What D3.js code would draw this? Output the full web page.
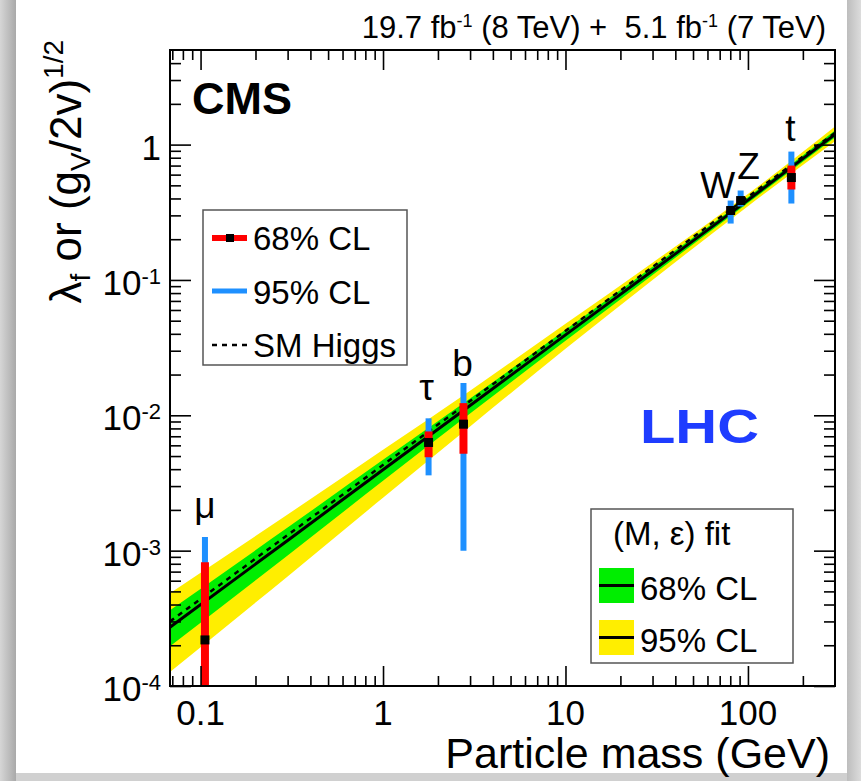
<!DOCTYPE html>
<html>
<head>
<meta charset="utf-8">
<script src="https://cdn.jsdelivr.net/npm/d3@7"></script>
<style>
  body { margin: 0; background: #fff; }
  svg text { font-family: "Liberation Sans", Arial, Helvetica, sans-serif; fill: #000; }
</style>
</head>
<body>
<svg id="chart" width="861" height="781"></svg>
<script>
// measured couplings per particle
const particles = ["μ", "τ", "b", "W", "Z", "t"];
const masses = [0.1057, 1.777, 2.76, 80.4, 91.2, 173];
const central = [2.19e-4, 6.3e-3, 8.6e-3, 0.326, 0.386, 0.571];
const lo68 = [5e-5, 4.9e-3, 5.2e-3, 0.31, 0.37, 0.466];
const hi68 = [8.2e-4, 7.6e-3, 1.23e-2, 0.345, 0.40, 0.70];
const lo95 = [5e-5, 3.6e-3, 1.0e-3, 0.261, 0.349, 0.367];
const hi95 = [1.26e-3, 9.5e-3, 1.73e-2, 0.386, 0.458, 0.888];

// (M, eps) fit: central line and bands
const fitMass = [0.068, 0.3, 1, 3, 10, 30, 100, 300];
const fitCentral = [2.72e-4, 1.19e-3, 3.96e-3, 1.18e-2, 3.93e-2, 0.117, 0.389, 1.19];
const fitLo68 = [1.97e-4, 9.22e-4, 3.28e-3, 1.03e-2, 3.55e-2, 0.109, 0.370, 1.13];
const fitHi68 = [3.63e-4, 1.48e-3, 4.69e-3, 1.33e-2, 4.28e-2, 0.125, 0.409, 1.27];
const fitLo95 = [1.27e-4, 6.45e-4, 2.46e-3, 8.26e-3, 3.10e-2, 0.100, 0.351, 1.06];
const fitHi95 = [4.85e-4, 1.85e-3, 5.56e-3, 1.52e-2, 4.74e-2, 0.134, 0.431, 1.36];

// SM Higgs expectation
const smMass = [0.068, 300];
const smValue = [3.0e-4, 1.22];

// axis ticks
const xMajor = [0.1, 1, 10, 100];
const xLabels = ["0.1", "1", "10", "100"];
const yMajor = [1e-4, 1e-3, 1e-2, 1e-1, 1];
const yExp = [-4, -3, -2, -1, 0];

const pL = 170, pR = 835, pT = 50, pB = 686;

const svg = d3.select("#chart");

// screenshot frame shading
const defs = svg.append("defs");
const gl = defs.append("linearGradient").attr("id", "gl");
gl.append("stop").attr("offset", "0").attr("stop-color", "#d6d6d6");
gl.append("stop").attr("offset", "1").attr("stop-color", "#a9a9a9");
const gr = defs.append("linearGradient").attr("id", "gr");
gr.append("stop").attr("offset", "0").attr("stop-color", "#bdbdbd");
gr.append("stop").attr("offset", "1").attr("stop-color", "#dcdcdc");
defs.append("clipPath").attr("id", "plotclip")
  .append("rect").attr("x", pL).attr("y", pT)
  .attr("width", pR - pL).attr("height", pB - pT);

svg.append("rect").attr("x", 0).attr("y", 0).attr("width", 16).attr("height", 781).attr("fill", "url(#gl)");
svg.append("rect").attr("x", 847).attr("y", 0).attr("width", 14).attr("height", 781).attr("fill", "url(#gr)");
svg.append("rect").attr("x", 16).attr("y", 773).attr("width", 831).attr("height", 8).attr("fill", "#d0d0d0");

// scales
const x = d3.scaleLog().domain([0.068, 300]).range([pL, pR]);
const y = d3.scaleLog().domain([1e-4, 5]).range([pB, pT]);

const plot = svg.append("g").attr("clip-path", "url(#plotclip)");

const band = (lo, hi) => d3.area()
  .x((d, i) => x(fitMass[i]))
  .y0((d, i) => y(lo[i]))
  .y1((d, i) => y(hi[i]))
  .curve(d3.curveMonotoneX);

plot.append("path").datum(fitMass).attr("d", band(fitLo95, fitHi95)).attr("fill", "#ffee00");
plot.append("path").datum(fitMass).attr("d", band(fitLo68, fitHi68)).attr("fill", "#00ee00");

plot.append("path").datum(smMass)
  .attr("d", d3.line().x((d, i) => x(smMass[i])).y((d, i) => y(smValue[i])))
  .attr("fill", "none").attr("stroke", "#000").attr("stroke-width", 2.5)
  .attr("stroke-dasharray", "5,5");

plot.append("path").datum(fitMass)
  .attr("d", d3.line().x((d, i) => x(fitMass[i])).y((d, i) => y(fitCentral[i])).curve(d3.curveMonotoneX))
  .attr("fill", "none").attr("stroke", "#000").attr("stroke-width", 3);

// error bars
const pts = plot.selectAll("g.pt").data(particles).enter().append("g").attr("class", "pt");
pts.append("line")
  .attr("x1", (d, i) => x(masses[i])).attr("x2", (d, i) => x(masses[i]))
  .attr("y1", (d, i) => y(lo95[i])).attr("y2", (d, i) => y(hi95[i]))
  .attr("stroke", "#1e90ff").attr("stroke-width", 6);
pts.append("line")
  .attr("x1", (d, i) => x(masses[i])).attr("x2", (d, i) => x(masses[i]))
  .attr("y1", (d, i) => y(lo68[i])).attr("y2", (d, i) => y(hi68[i]))
  .attr("stroke", "#ff0000").attr("stroke-width", 8);
pts.append("rect")
  .attr("x", (d, i) => x(masses[i]) - 4.5).attr("y", (d, i) => y(central[i]) - 4.5)
  .attr("width", 9).attr("height", 9).attr("fill", "#000");

// particle labels
const labelOff = [[0, -19], [-2, -18], [-1, -7], [-13, -3], [8, -12], [-1, -11]];
svg.selectAll("text.plab").data(particles).enter().append("text")
  .attr("class", "plab")
  .attr("x", (d, i) => x(masses[i]) + labelOff[i][0])
  .attr("y", (d, i) => Math.max(y(hi95[i]), pT) + labelOff[i][1])
  .attr("text-anchor", "middle")
  .style("font-size", "37px")
  .text(d => d);

// axes: inward ticks on all four sides
const xMinor = [];
[0.01, 0.1, 1, 10, 100].forEach(dec => {
  for (let k = 2; k <= 9; k++) {
    const v = dec * k;
    if (v > 0.068 && v < 300) xMinor.push(v);
  }
});
const yMinor = [];
[1e-4, 1e-3, 1e-2, 1e-1, 1].forEach(dec => {
  for (let k = 2; k <= 9; k++) {
    const v = dec * k;
    if (v < 5) yMinor.push(v);
  }
});

function drawAxis(axis, tr) {
  const g = svg.append("g").attr("transform", tr).call(axis);
  g.select(".domain").remove();
  g.selectAll("text").remove();
  g.selectAll("line").attr("stroke", "#000").attr("stroke-width", 1.6);
}
drawAxis(d3.axisBottom(x).tickValues(xMajor).tickSize(-20), `translate(0,${pB})`);
drawAxis(d3.axisBottom(x).tickValues(xMinor).tickSize(-10), `translate(0,${pB})`);
drawAxis(d3.axisTop(x).tickValues(xMajor).tickSize(-20), `translate(0,${pT})`);
drawAxis(d3.axisTop(x).tickValues(xMinor).tickSize(-10), `translate(0,${pT})`);
drawAxis(d3.axisLeft(y).tickValues(yMajor).tickSize(-21), `translate(${pL},0)`);
drawAxis(d3.axisLeft(y).tickValues(yMinor).tickSize(-11), `translate(${pL},0)`);
drawAxis(d3.axisRight(y).tickValues(yMajor).tickSize(-21), `translate(${pR},0)`);
drawAxis(d3.axisRight(y).tickValues(yMinor).tickSize(-11), `translate(${pR},0)`);

svg.append("rect").attr("x", pL).attr("y", pT)
  .attr("width", pR - pL).attr("height", pB - pT)
  .attr("fill", "none").attr("stroke", "#000").attr("stroke-width", 2);

// tick labels
svg.selectAll("text.xl").data(xMajor).enter().append("text")
  .attr("class", "xl")
  .attr("x", d => x(d)).attr("y", 725)
  .attr("text-anchor", "middle").style("font-size", "35px")
  .text((d, i) => xLabels[i]);

const yl = svg.selectAll("text.yl").data(yMajor).enter().append("text")
  .attr("class", "yl")
  .attr("x", 161).attr("y", d => y(d) + 15)
  .attr("text-anchor", "end").style("font-size", "35px");
yl.each(function(d, i) {
  const t = d3.select(this);
  if (yExp[i] === 0) { t.text("1"); return; }
  t.append("tspan").text("10");
  t.append("tspan").attr("dy", -11).style("font-size", "22px").text(yExp[i]);
});

// axis titles
svg.append("text")
  .attr("x", 830).attr("y", 768)
  .attr("text-anchor", "end").style("font-size", "43px")
  .text("Particle mass (GeV)");

const yt = svg.append("text")
  .attr("transform", "translate(81,40) rotate(-90)")
  .attr("text-anchor", "end").style("font-size", "44px");
yt.append("tspan").text("λ");
yt.append("tspan").attr("dy", 9).style("font-size", "28px").text("f");
yt.append("tspan").attr("dy", -9).text(" or (g");
yt.append("tspan").attr("dy", 9).style("font-size", "28px").text("V");
yt.append("tspan").attr("dy", -9).text("/2v)");
yt.append("tspan").attr("dy", -18).style("font-size", "28px").text("1/2");

// luminosity header
const hd = svg.append("text")
  .attr("x", 826).attr("y", 38)
  .attr("text-anchor", "end").style("font-size", "31px");
hd.append("tspan").text("19.7 fb");
hd.append("tspan").attr("dy", -11).style("font-size", "18px").text("-1");
hd.append("tspan").attr("dy", 11).text(" (8 TeV) +\u00a0 5.1 fb");
hd.append("tspan").attr("dy", -11).style("font-size", "18px").text("-1");
hd.append("tspan").attr("dy", 11).text(" (7 TeV)");

svg.append("text").attr("x", 192).attr("y", 114)
  .style("font-size", "45px").style("font-weight", "bold").text("CMS");

svg.append("text").attr("x", 640).attr("y", 443)
  .attr("textLength", 119).attr("lengthAdjust", "spacingAndGlyphs")
  .style("font-size", "48px").style("font-weight", "bold")
  .style("fill", "#1e3cff").text("LHC");

// legend: measurements
const lg1 = svg.append("g");
lg1.append("rect").attr("x", 203).attr("y", 210).attr("width", 204).attr("height", 155)
  .attr("fill", "#fff").attr("stroke", "#555").attr("stroke-width", 1.5);
lg1.append("line").attr("x1", 212).attr("x2", 247).attr("y1", 238).attr("y2", 238)
  .attr("stroke", "#ff0000").attr("stroke-width", 6);
lg1.append("rect").attr("x", 226).attr("y", 234).attr("width", 8).attr("height", 8).attr("fill", "#000");
lg1.append("line").attr("x1", 212).attr("x2", 247).attr("y1", 291).attr("y2", 291)
  .attr("stroke", "#1e90ff").attr("stroke-width", 5);
lg1.append("line").attr("x1", 212).attr("x2", 247).attr("y1", 345).attr("y2", 345)
  .attr("stroke", "#000").attr("stroke-width", 2.5).attr("stroke-dasharray", "5,5");
[["68% CL", 250], ["95% CL", 304], ["SM Higgs", 357]].forEach(([t, yy]) => {
  lg1.append("text").attr("x", 253).attr("y", yy).style("font-size", "33px").text(t);
});

// legend: fit
const lg2 = svg.append("g");
lg2.append("rect").attr("x", 591).attr("y", 509).attr("width", 202).attr("height", 154)
  .attr("fill", "#fff").attr("stroke", "#555").attr("stroke-width", 1.5);
lg2.append("text").attr("x", 613).attr("y", 545).style("font-size", "33px").text("(M, ε) fit");
[["#00ee00", 568, "68% CL"], ["#ffee00", 620, "95% CL"]].forEach(([c, yy, t]) => {
  lg2.append("rect").attr("x", 599).attr("y", yy).attr("width", 35).attr("height", 35).attr("fill", c);
  lg2.append("line").attr("x1", 599).attr("x2", 634).attr("y1", yy + 17.5).attr("y2", yy + 17.5)
    .attr("stroke", "#000").attr("stroke-width", 3);
  lg2.append("text").attr("x", 640).attr("y", yy + 32).style("font-size", "33px").text(t);
});
</script>
</body>
</html>
